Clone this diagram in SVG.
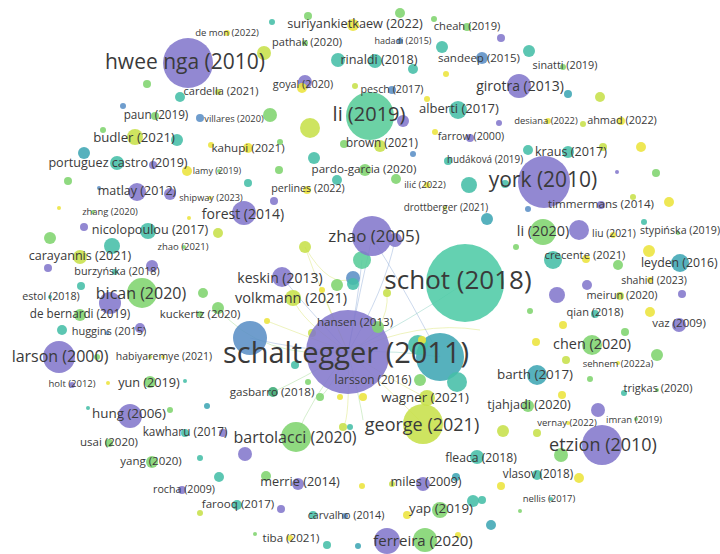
<svg xmlns="http://www.w3.org/2000/svg" width="720" height="554" viewBox="0 0 720 554">
<style>
text{font-family:"Open Sans","DejaVu Sans",sans-serif;fill:#3a3a3a;text-anchor:middle}
circle{fill-opacity:.88}
.p{fill:#8378cc}.b{fill:#5b8fc6}.c{fill:#3fa6b4}.t{fill:#45bea7}.gt{fill:#58cc99}.g{fill:#80d46e}.y{fill:#c7e04a}.yy{fill:#ece43c}
.e{fill:none;stroke-width:.8;stroke-opacity:.55}
.ey{stroke:#d9e36a}.eb{stroke:#8aa7d6}.eg{stroke:#9ed88f}.et{stroke:#7fcbbb}
</style>
<rect width="720" height="554" fill="#ffffff"/>
<g id="connectors">
<path class="e ey" d="M348,352 Q300,320 293,298"/>
<path class="e ey" d="M348,352 Q320,290 305,247"/>
<path class="e ey" d="M348,352 Q330,310 322,290"/>
<path class="e ey" d="M348,352 Q290,330 267,321"/>
<path class="e eb" d="M348,352 Q360,290 372,238"/>
<path class="e eb" d="M348,352 Q385,290 395,240"/>
<path class="e eb" d="M348,352 Q358,300 362,260"/>
<path class="e eb" d="M348,352 Q300,300 282,277"/>
<path class="e eb" d="M348,352 Q300,350 250,338"/>
<path class="e ey" d="M348,352 Q400,400 423,424"/>
<path class="e ey" d="M348,352 Q400,385 427,398"/>
<path class="e eg" d="M348,352 Q310,400 296,437"/>
<path class="e eg" d="M348,352 Q300,380 273,392"/>
<path class="e et" d="M348,352 Q400,350 440,357"/>
<path class="e et" d="M348,352 Q410,320 465,283"/>
<path class="e ey" d="M348,352 Q420,320 480,330"/>
<path class="e eg" d="M348,352 Q360,400 363,420"/>
<path class="e ey" d="M348,352 Q350,420 343,427"/>
<path class="e eg" d="M348,352 Q260,360 218,308"/>
<path class="e ey" d="M348,352 Q390,330 387,293"/>
<path class="e eb" d="M372,238 Q400,280 440,357"/>
<path class="e ey" d="M305,247 Q330,290 353,278"/>
<path class="e eg" d="M348,352 Q330,390 320,397"/>
</g>
<g id="bubbles">
<circle class="g" cx="308" cy="16" r="4"/><circle class="t" cx="272" cy="22" r="3"/><circle class="g" cx="400" cy="13" r="5"/><circle class="g" cx="434" cy="19" r="3"/>
<circle class="y" cx="264" cy="53" r="7"/><circle class="t" cx="338" cy="60" r="7"/><circle class="t" cx="413" cy="69" r="5"/><circle class="t" cx="442" cy="47" r="6"/>
<circle class="yy" cx="446" cy="74" r="3"/><circle class="y" cx="355" cy="86" r="3"/><circle class="yy" cx="427" cy="99" r="3"/><circle class="g" cx="270" cy="115" r="7"/>
<circle class="y" cx="310" cy="128" r="10"/><circle class="p" cx="403" cy="121" r="6"/><circle class="yy" cx="435" cy="132" r="3"/>
<circle class="p" cx="501" cy="38" r="4"/><circle class="t" cx="529" cy="51" r="6"/><circle class="c" cx="568" cy="94" r="4"/><circle class="y" cx="600" cy="97" r="5"/>
<circle class="p" cx="499" cy="123" r="3"/><circle class="y" cx="583" cy="124" r="3"/>
<circle class="g" cx="147" cy="84" r="4"/><circle class="t" cx="180" cy="97" r="5"/><circle class="b" cx="123" cy="106" r="3"/><circle class="g" cx="103" cy="130" r="3"/><circle class="t" cx="177" cy="140" r="6"/>
<circle class="c" cx="84" cy="153" r="6"/><circle class="p" cx="153" cy="165" r="4"/><circle class="yy" cx="187" cy="171" r="5"/><circle class="yy" cx="211" cy="145" r="3"/>
<circle class="g" cx="68" cy="181" r="4"/><circle class="p" cx="170" cy="194" r="6"/><circle class="b" cx="99" cy="188" r="2"/><circle class="yy" cx="59" cy="208" r="2"/>
<circle class="yy" cx="189" cy="218" r="2"/><circle class="p" cx="84" cy="227" r="4"/><circle class="y" cx="218" cy="233" r="5"/><circle class="g" cx="50" cy="238" r="6"/>
<circle class="t" cx="112" cy="246" r="8"/><circle class="p" cx="48" cy="268" r="4"/><circle class="p" cx="152" cy="266" r="6"/>
<circle class="g" cx="280" cy="142" r="3"/><circle class="g" cx="344" cy="144" r="4"/><circle class="b" cx="413" cy="154" r="3"/><circle class="t" cx="314" cy="158" r="6"/>
<circle class="g" cx="279" cy="170" r="4"/><circle class="t" cx="248" cy="183" r="4"/><circle class="t" cx="337" cy="180" r="5"/><circle class="g" cx="396" cy="179" r="5"/>
<circle class="t" cx="469" cy="185" r="8"/><circle class="p" cx="274" cy="201" r="4"/><circle class="p" cx="395" cy="240" r="7"/><circle class="y" cx="305" cy="247" r="6"/>
<circle class="gt" cx="362" cy="260" r="9"/><circle class="b" cx="353" cy="278" r="7"/>
<circle class="t" cx="568" cy="152" r="6"/><circle class="y" cx="603" cy="147" r="4"/><circle class="yy" cx="641" cy="147" r="5"/><circle class="p" cx="617" cy="172" r="2"/>
<circle class="g" cx="656" cy="173" r="4"/><circle class="t" cx="505" cy="184" r="4"/><circle class="y" cx="633" cy="197" r="3"/><circle class="yy" cx="669" cy="202" r="5"/>
<circle class="b" cx="528" cy="209" r="3"/><circle class="c" cx="487" cy="219" r="6"/><circle class="t" cx="644" cy="222" r="3"/><circle class="g" cx="516" cy="247" r="3"/>
<circle class="yy" cx="649" cy="251" r="6"/><circle class="yy" cx="586" cy="259" r="4"/><circle class="g" cx="618" cy="265" r="5"/>
<circle class="p" cx="587" cy="285" r="5"/><circle class="p" cx="557" cy="295" r="8"/><circle class="p" cx="682" cy="294" r="4"/><circle class="g" cx="530" cy="311" r="3"/>
<circle class="yy" cx="650" cy="312" r="5"/><circle class="yy" cx="563" cy="325" r="4"/><circle class="g" cx="625" cy="332" r="4"/><circle class="yy" cx="536" cy="342" r="4"/>
<circle class="y" cx="566" cy="360" r="4"/><circle class="g" cx="657" cy="355" r="6"/><circle class="g" cx="590" cy="379" r="3"/><circle class="yy" cx="562" cy="395" r="4"/><circle class="p" cx="598" cy="410" r="7"/>
<circle class="y" cx="503" cy="431" r="6"/><circle class="y" cx="537" cy="433" r="4"/><circle class="g" cx="561" cy="455" r="7"/><circle class="yy" cx="579" cy="478" r="5"/>
<circle class="yy" cx="501" cy="486" r="4"/><circle class="t" cx="482" cy="500" r="4"/><circle class="g" cx="520" cy="511" r="2"/><circle class="c" cx="491" cy="525" r="5"/>
<circle class="y" cx="343" cy="427" r="4"/><circle class="t" cx="350" cy="427" r="3"/><circle class="p" cx="245" cy="454" r="7"/><circle class="g" cx="266" cy="476" r="5"/>
<circle class="c" cx="456" cy="477" r="4"/><circle class="yy" cx="362" cy="486" r="3"/><circle class="y" cx="392" cy="484" r="3"/><circle class="t" cx="473" cy="501" r="6"/>
<circle class="p" cx="281" cy="509" r="4"/><circle class="t" cx="313" cy="515" r="4"/><circle class="g" cx="255" cy="534" r="2"/><circle class="t" cx="327" cy="545" r="4"/>
<circle class="c" cx="358" cy="546" r="3"/><circle class="yy" cx="458" cy="535" r="3"/>
<circle class="p" cx="223" cy="433" r="4"/><circle class="t" cx="200" cy="458" r="3"/><circle class="t" cx="219" cy="477" r="5"/><circle class="y" cx="200" cy="513" r="3"/>
<circle class="t" cx="81" cy="286" r="4"/><circle class="g" cx="203" cy="293" r="5"/><circle class="g" cx="218" cy="308" r="6"/><circle class="t" cx="62" cy="330" r="5"/>
<circle class="p" cx="140" cy="328" r="5"/><circle class="g" cx="97" cy="357" r="3"/><circle class="y" cx="150" cy="357" r="2"/><circle class="yy" cx="108" cy="383" r="2"/>
<circle class="t" cx="185" cy="381" r="2"/><circle class="c" cx="207" cy="406" r="3"/><circle class="g" cx="170" cy="410" r="3"/><circle class="t" cx="88" cy="408" r="2"/>
<circle class="b" cx="250" cy="338" r="17"/><circle class="g" cx="337" cy="285" r="6"/><circle class="t" cx="353" cy="284" r="6"/><circle class="y" cx="387" cy="293" r="4"/>
<circle class="yy" cx="322" cy="290" r="3"/><circle class="yy" cx="267" cy="321" r="3"/><circle class="y" cx="312" cy="333" r="4"/>
<circle class="p" cx="110" cy="303" r="11"/><circle class="p" cx="579" cy="230" r="10"/><circle class="p" cx="387" cy="541" r="13"/>
</g>
<g id="n-schot"><circle class="t" cx="465" cy="283" r="39" style="fill:#4ecba6"/><text x="458" y="289" font-size="26">schot (2018)</text></g>
<g id="n-schaltegger"><circle class="p" cx="348" cy="352" r="42"/>
<circle class="c" cx="440" cy="357" r="24"/><circle class="t" cx="418" cy="345" r="10"/><circle class="t" cx="457" cy="382" r="10"/><circle class="g" cx="420" cy="380" r="6"/><circle class="yy" cx="422" cy="340" r="4"/><circle class="t" cx="295" cy="365" r="4"/><circle class="g" cx="308" cy="382" r="3"/><circle class="g" cx="320" cy="397" r="4"/><circle class="yy" cx="340" cy="397" r="3"/><circle class="yy" cx="363" cy="397" r="4"/><circle class="g" cx="378" cy="327" r="6"/>
<text x="346" y="363" font-size="29">schaltegger (2011)</text></g>
<g id="n-hweenga"><circle class="p" cx="188" cy="63" r="25"/><text x="185" y="69" font-size="21">hwee nga (2010)</text></g>
<g id="n-li2019"><circle class="gt" cx="370" cy="116" r="24"/><text x="369" y="121" font-size="20">li (2019)</text></g>
<g id="n-york"><circle class="p" cx="544" cy="182" r="26"/><text x="543" y="187" font-size="21">york (2010)</text></g>
<g id="n-zhao2005"><circle class="p" cx="372" cy="236" r="20"/><text x="374" y="242" font-size="17">zhao (2005)</text></g>
<g id="n-etzion"><circle class="p" cx="602" cy="445" r="20"/><text x="603" y="451" font-size="18">etzion (2010)</text></g>
<g id="n-george"><circle class="y" cx="423" cy="424" r="20"/><text x="422" y="431" font-size="18">george (2021)</text></g>
<g id="n-girotra"><circle class="p" cx="519" cy="86" r="12"/><text x="520" y="91" font-size="14">girotra (2013)</text></g>
<g id="n-larson"><circle class="p" cx="59" cy="357" r="16"/><text x="60" y="362" font-size="16">larson (2000)</text></g>
<g id="n-bican"><circle class="g" cx="142" cy="293" r="15"/><text x="141" y="299" font-size="16">bican (2020)</text></g>
<g id="n-bartolacci"><circle class="g" cx="296" cy="437" r="15"/><text x="295" y="443" font-size="16">bartolacci (2020)</text></g>
<g id="n-ferreira"><circle class="g" cx="425" cy="540" r="12"/><text x="423" y="546" font-size="15">ferreira (2020)</text></g>
<g id="n-chen"><circle class="g" cx="592" cy="345" r="10"/><text x="592" y="349" font-size="14.4">chen (2020)</text></g>
<g id="n-barth"><circle class="c" cx="537" cy="375" r="10"/><text x="535" y="379" font-size="13.4">barth (2017)</text></g>
<g id="n-tjahjadi"><circle class="g" cx="528" cy="406" r="6"/><text x="529" y="409" font-size="12.7">tjahjadi (2020)</text></g>
<g id="n-forest"><circle class="p" cx="244" cy="213" r="12"/><text x="243" y="219" font-size="14">forest (2014)</text></g>
<g id="n-li2020"><circle class="g" cx="543" cy="232" r="13"/><text x="543" y="236" font-size="14.4">li (2020)</text></g>
<g id="n-hung"><circle class="p" cx="130" cy="416" r="12"/><text x="129" y="418" font-size="13.4">hung (2006)</text></g>
<g id="n-yun"><circle class="g" cx="150" cy="382" r="6"/><text x="149" y="387" font-size="12.7">yun (2019)</text></g>
<g id="n-yap"><circle class="g" cx="440" cy="510" r="8"/><circle class="yy" cx="407" cy="515" r="4"/><text x="441" y="513" font-size="13.3">yap (2019)</text></g>
<g id="n-wagner"><circle class="y" cx="427" cy="398" r="8"/><text x="425" y="402" font-size="13.3">wagner (2021)</text></g>
<g id="n-volkmann"><circle class="y" cx="293" cy="298" r="8"/><text x="291" y="303" font-size="14.5">volkmann (2021)</text></g>
<g id="n-keskin"><circle class="p" cx="282" cy="277" r="10"/><text x="280" y="283" font-size="14">keskin (2013)</text></g>
<g id="n-budler"><circle class="y" cx="135" cy="137" r="8"/><text x="134" y="142" font-size="13.2">budler (2021)</text></g>
<g id="n-portuguez"><circle class="t" cx="117" cy="163" r="7"/><text x="118" y="167" font-size="12.6">portuguez castro (2019)</text></g>
<g id="n-matlay"><circle class="p" cx="137" cy="192" r="9"/><text x="137" y="195" font-size="12.5">matlay (2012)</text></g>
<g id="n-nicolopoulou"><circle class="t" cx="148" cy="231" r="8"/><text x="150" y="234" font-size="12.6">nicolopoulou (2017)</text></g>
<g id="n-carayannis"><circle class="y" cx="80" cy="257" r="7"/><text x="80" y="260" font-size="12.6">carayannis (2021)</text></g>
<g id="n-rinaldi"><circle class="t" cx="375" cy="61" r="7"/><text x="379" y="64" font-size="12.7">rinaldi (2018)</text></g>
<g id="n-suriyankietkaew"><circle class="yy" cx="353" cy="25" r="6"/><text x="355" y="28" font-size="12.7">suriyankietkaew (2022)</text></g>
<g id="n-cheah"><circle class="g" cx="467" cy="27" r="4"/><text x="467" y="30" font-size="11.2">cheah (2019)</text></g>
<g id="n-alberti"><circle class="t" cx="458" cy="110" r="9"/><text x="459" y="113" font-size="13">alberti (2017)</text></g>
<g id="n-kraus"><circle class="t" cx="528" cy="150" r="5"/><text x="571" y="156" font-size="12.6">kraus (2017)</text></g>
<g id="n-leyden"><circle class="c" cx="680" cy="263" r="9"/><text x="641" y="267" font-size="12.3" style="text-anchor:start">leyden (2016)</text></g>
<g id="n-crecente"><circle class="t" cx="553" cy="260" r="9"/><text x="585" y="259" font-size="11.3">crecente (2021)</text></g>
<g id="n-timmermans"><circle class="p" cx="601" cy="205" r="4"/><text x="601" y="208" font-size="11.6">timmermans (2014)</text></g>
<g id="n-stypinska"><circle class="g" cx="678" cy="233" r="2"/><text x="680" y="234" font-size="10.7">stypińska (2019)</text></g>
<g id="n-liu"><circle class="yy" cx="613" cy="235" r="3"/><text x="614" y="237" font-size="10.3">liu (2021)</text></g>
<g id="n-shahid"><circle class="yy" cx="650" cy="280" r="3"/><text x="654" y="284" font-size="10.5">shahid (2023)</text></g>
<g id="n-meirun"><circle class="y" cx="620" cy="296" r="4"/><text x="622" y="299" font-size="10.9">meirun (2020)</text></g>
<g id="n-qian"><circle class="t" cx="595" cy="314" r="4"/><text x="595" y="316" font-size="11">qian (2018)</text></g>
<g id="n-vaz"><circle class="p" cx="679" cy="325" r="7"/><text x="679" y="327" font-size="11.5">vaz (2009)</text></g>
<g id="n-sehnem"><circle class="yy" cx="618" cy="363" r="2"/><text x="618" y="367" font-size="9.5">sehnem (2022a)</text></g>
<g id="n-trigkas"><circle class="t" cx="624" cy="393" r="3"/><circle class="g" cx="657" cy="390" r="2"/><text x="658" y="392" font-size="11">trigkas (2020)</text></g>
<g id="n-imran"><circle class="g" cx="636" cy="419" r="2"/><text x="634" y="423" font-size="9.5">imran (2019)</text></g>
<g id="n-vernay"><circle class="yy" cx="568" cy="423" r="2"/><text x="567" y="426" font-size="9.5">vernay (2022)</text></g>
<g id="n-fleaca"><circle class="t" cx="477" cy="457" r="7"/><text x="481" y="462" font-size="12.2">fleaca (2018)</text></g>
<g id="n-vlasov"><circle class="t" cx="537" cy="475" r="5"/><text x="538" y="478" font-size="11.7">vlasov (2018)</text></g>
<g id="n-nellis"><circle class="t" cx="551" cy="499" r="2"/><text x="549" y="502" font-size="9.5">nellis (2017)</text></g>
<g id="n-miles"><circle class="p" cx="423" cy="484" r="7"/><text x="426" y="486" font-size="12.7">miles (2009)</text></g>
<g id="n-merrie"><circle class="p" cx="298" cy="484" r="6"/><text x="300" y="486" font-size="12.7">merrie (2014)</text></g>
<g id="n-carvalho"><circle class="b" cx="345" cy="516" r="3"/><text x="346" y="519" font-size="10.8">carvalho (2014)</text></g>
<g id="n-tiba"><circle class="yy" cx="290" cy="538" r="3"/><text x="291" y="542" font-size="11.6">tiba (2021)</text></g>
<g id="n-farooq"><circle class="t" cx="237" cy="505" r="5"/><text x="238" y="508" font-size="11.6">farooq (2017)</text></g>
<g id="n-rocha"><circle class="p" cx="182" cy="490" r="4"/><text x="184" y="493" font-size="10.7">rocha (2009)</text></g>
<g id="n-yang"><circle class="g" cx="152" cy="462" r="6"/><text x="151" y="465" font-size="11.5">yang (2020)</text></g>
<g id="n-usai"><circle class="g" cx="109" cy="443" r="4"/><text x="109" y="446" font-size="11.5">usai (2020)</text></g>
<g id="n-kawharu"><circle class="t" cx="185" cy="433" r="4"/><text x="185" y="436" font-size="11.8">kawharu (2017)</text></g>
<g id="n-gasbarro"><circle class="t" cx="273" cy="392" r="5" style="fill:#3aa873"/><text x="272" y="396" font-size="11.6">gasbarro (2018)</text></g>
<g id="n-larsson"><text x="373" y="384" font-size="11.8">larsson (2016)</text></g>
<g id="n-hansen"><text x="355" y="326" font-size="11.6">hansen (2013)</text></g>
<g id="n-holt"><circle class="p" cx="72" cy="385" r="3"/><text x="72" y="387" font-size="9.5">holt (2012)</text></g>
<g id="n-habiyaremye"><circle class="yy" cx="163" cy="357" r="2"/><text x="164" y="360" font-size="10.5">habiyaremye (2021)</text></g>
<g id="n-huggins"><circle class="b" cx="107" cy="333" r="2"/><text x="109" y="335" font-size="11">huggins (2015)</text></g>
<g id="n-debernardi"><circle class="g" cx="80" cy="315" r="6"/><text x="80" y="318" font-size="11.7">de bernardi (2019)</text></g>
<g id="n-estol"><circle class="t" cx="50" cy="297" r="2"/><text x="51" y="300" font-size="10.7">estol (2018)</text></g>
<g id="n-kuckertz"><circle class="g" cx="200" cy="314" r="3"/><text x="200" y="318" font-size="11.4">kuckertz (2020)</text></g>
<g id="n-burzynska"><circle class="t" cx="115" cy="272" r="3"/><text x="117" y="275" font-size="10.8">burzyńska (2018)</text></g>
<g id="n-zhao2021"><circle class="g" cx="184" cy="247" r="2"/><text x="183" y="250" font-size="9.5">zhao (2021)</text></g>
<g id="n-zhang"><circle class="g" cx="93" cy="212" r="2"/><text x="110" y="215" font-size="9.4">zhang (2020)</text></g>
<g id="n-shipway"><circle class="yy" cx="210" cy="198" r="2"/><text x="211" y="201" font-size="9.2">shipway (2023)</text></g>
<g id="n-lamy"><circle class="g" cx="219" cy="171" r="2"/><text x="217" y="174" font-size="9">lamy (2019)</text></g>
<g id="n-kahupi"><circle class="yy" cx="248" cy="148" r="5"/><text x="248" y="152" font-size="11.6">kahupi (2021)</text></g>
<g id="n-villares"><circle class="b" cx="200" cy="118" r="4"/><text x="234" y="122" font-size="9.3">villares (2020)</text></g>
<g id="n-paun"><circle class="g" cx="155" cy="116" r="4"/><text x="156" y="119" font-size="11.7">paun (2019)</text></g>
<g id="n-cardella"><circle class="y" cx="218" cy="92" r="3"/><text x="221" y="95" font-size="11">cardella (2021)</text></g>
<g id="n-demon"><circle class="yy" cx="227" cy="33" r="3"/><text x="227" y="36" font-size="9.5">de mon (2022)</text></g>
<g id="n-pathak"><circle class="g" cx="305" cy="43" r="3"/><text x="307" y="46" font-size="11">pathak (2020)</text></g>
<g id="n-hadadi"><circle class="b" cx="400" cy="41" r="3"/><text x="403" y="44" font-size="9">hadadi (2015)</text></g>
<g id="n-sandeep"><circle class="b" cx="482" cy="58" r="6"/><text x="479" y="62" font-size="11.5">sandeep (2015)</text></g>
<g id="n-sinatti"><circle class="g" cx="563" cy="67" r="3"/><text x="565" y="69" font-size="10.8">sinatti (2019)</text></g>
<g id="n-goyal"><circle class="p" cx="305" cy="82" r="7"/><circle class="yy" cx="302" cy="88" r="5"/><text x="303" y="88" font-size="10.8">goyal (2020)</text></g>
<g id="n-pesch"><circle class="b" cx="392" cy="90" r="4"/><text x="392" y="93" font-size="10.7">pesch (2017)</text></g>
<g id="n-farrow"><circle class="p" cx="470" cy="138" r="4"/><text x="471" y="140" font-size="10.7">farrow (2000)</text></g>
<g id="n-desiana"><circle class="yy" cx="548" cy="121" r="3"/><text x="546" y="124" font-size="9.4">desiana (2022)</text></g>
<g id="n-ahmad"><circle class="yy" cx="621" cy="121" r="4"/><text x="622" y="124" font-size="10.9">ahmad (2022)</text></g>
<g id="n-brown"><circle class="y" cx="380" cy="146" r="6"/><text x="382" y="147" font-size="11.7">brown (2021)</text></g>
<g id="n-pardogarcia"><circle class="g" cx="365" cy="170" r="6"/><text x="364" y="173" font-size="11.6">pardo-garcia (2020)</text></g>
<g id="n-perlines"><circle class="yy" cx="307" cy="190" r="4"/><text x="308" y="192" font-size="10.7">perlines (2022)</text></g>
<g id="n-hudakova"><circle class="t" cx="448" cy="161" r="4"/><text x="485" y="163" font-size="9.9">hudáková (2019)</text></g>
<g id="n-ilic"><circle class="yy" cx="427" cy="185" r="3"/><text x="425" y="188" font-size="9.5">ilić (2022)</text></g>
<g id="n-drottberger"><circle class="y" cx="445" cy="208" r="2"/><text x="446" y="211" font-size="9.9">drottberger (2021)</text></g>
</svg>
